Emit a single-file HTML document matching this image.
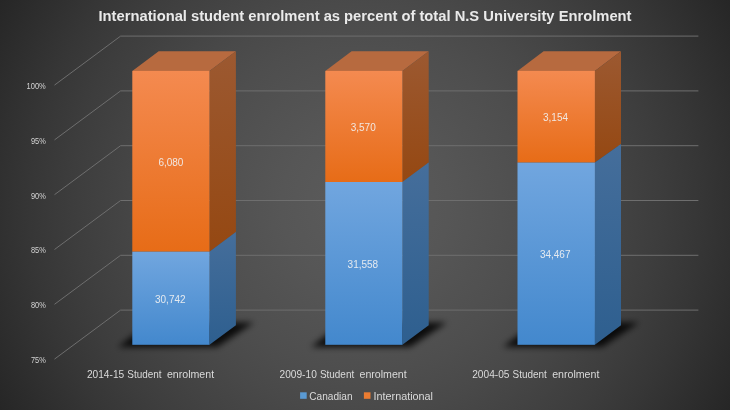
<!DOCTYPE html>
<html lang="en">
<head>
<meta charset="utf-8">
<title>International student enrolment as percent of total N.S University Enrolment</title>
<style>
  html, body { margin: 0; padding: 0; background: #2e2e2e; }
  body { width: 730px; height: 410px; overflow: hidden; }
  svg { display: block; }
  text { font-family: "Liberation Sans", sans-serif; }
</style>
</head>
<body>
<svg width="730" height="410" viewBox="0 0 730 410">
  <defs>
    <radialGradient id="bg" gradientUnits="userSpaceOnUse" cx="365" cy="205" r="419" fx="365" fy="205">
      <stop offset="0" stop-color="#5c5c5c"/>
      <stop offset="0.1" stop-color="#595959"/>
      <stop offset="0.2" stop-color="#565656"/>
      <stop offset="0.3" stop-color="#525252"/>
      <stop offset="0.4" stop-color="#4e4e4e"/>
      <stop offset="0.5" stop-color="#494949"/>
      <stop offset="0.6" stop-color="#434343"/>
      <stop offset="0.7" stop-color="#3d3d3d"/>
      <stop offset="0.8" stop-color="#363636"/>
      <stop offset="0.9" stop-color="#2e2e2e"/>
      <stop offset="1" stop-color="#262626"/>
    </radialGradient>
    <linearGradient id="oFront" x1="0" y1="0" x2="0" y2="1">
      <stop offset="0" stop-color="#f48a50"/>
      <stop offset="1" stop-color="#e76c17"/>
    </linearGradient>
    <linearGradient id="oSide" x1="0" y1="0" x2="0" y2="1">
      <stop offset="0" stop-color="#9c5931"/>
      <stop offset="1" stop-color="#954812"/>
    </linearGradient>
    <linearGradient id="bFront" x1="0" y1="0" x2="0" y2="1">
      <stop offset="0" stop-color="#71a6df"/>
      <stop offset="1" stop-color="#4388cd"/>
    </linearGradient>
    <linearGradient id="bSide" x1="0" y1="0" x2="0" y2="1">
      <stop offset="0" stop-color="#456e9b"/>
      <stop offset="1" stop-color="#2e5f8f"/>
    </linearGradient>
    <filter id="blur" x="-30%" y="-80%" width="160%" height="260%">
      <feGaussianBlur stdDeviation="3.2"/>
    </filter>
  </defs>

  <!-- background -->
  <rect x="0" y="0" width="730" height="410" fill="url(#bg)"/>

  <!-- gridlines: side wall diagonals + back wall horizontals -->
  <g fill="none" stroke="#6e6e6e" stroke-width="1">
    <polyline points="54.5,85.1 120.6,36.1 698.4,36.1"/>
    <polyline points="54.5,139.9 120.6,90.9 698.4,90.9"/>
    <polyline points="54.5,194.7 120.6,145.7 698.4,145.7"/>
    <polyline points="54.5,249.5 120.6,200.5 698.4,200.5"/>
    <polyline points="54.5,304.3 120.6,255.3 698.4,255.3"/>
    <polyline points="54.5,359.1 120.6,310.1 698.4,310.1"/>
  </g>

  <!-- shadows -->
  <g fill="#000" fill-opacity="0.85" filter="url(#blur)">
    <polygon points="118,347 217,347 254,322.5 150,322.5"/>
    <polygon points="311,347 410,347 447,322.5 343,322.5"/>
    <polygon points="503,347 602,347 639,322.5 535,322.5"/>
  </g>

  <!-- bar 1 : 2014-15 -->
  <g>
    <polygon points="132.3,70.9 209.5,70.9 235.9,51.3 158.7,51.3" fill="#b76a3f"/>
    <polygon points="209.5,70.9 235.9,51.3 235.9,232.1 209.5,251.7" fill="url(#oSide)"/>
    <polygon points="209.5,251.7 235.9,232.1 235.9,325.2 209.5,344.8" fill="url(#bSide)"/>
    <rect x="132.3" y="70.9" width="77.2" height="180.8" fill="url(#oFront)"/>
    <rect x="132.3" y="251.7" width="77.2" height="93.1" fill="url(#bFront)"/>
  </g>

  <!-- bar 2 : 2009-10 -->
  <g>
    <polygon points="325.3,70.9 402.4,70.9 428.7,51.3 351.6,51.3" fill="#b76a3f"/>
    <polygon points="402.4,70.9 428.7,51.3 428.7,162.4 402.4,182.0" fill="url(#oSide)"/>
    <polygon points="402.4,182.0 428.7,162.4 428.7,325.2 402.4,344.8" fill="url(#bSide)"/>
    <rect x="325.3" y="70.9" width="77.1" height="111.1" fill="url(#oFront)"/>
    <rect x="325.3" y="182.0" width="77.1" height="162.8" fill="url(#bFront)"/>
  </g>

  <!-- bar 3 : 2004-05 -->
  <g>
    <polygon points="517.5,70.9 594.9,70.9 621.0,51.3 543.6,51.3" fill="#b76a3f"/>
    <polygon points="594.9,70.9 621.0,51.3 621.0,144.0 594.9,162.6" fill="url(#oSide)"/>
    <polygon points="594.9,162.6 621.0,144.0 621.0,325.2 594.9,344.8" fill="url(#bSide)"/>
    <rect x="517.5" y="70.9" width="77.4" height="91.7" fill="url(#oFront)"/>
    <rect x="517.5" y="162.6" width="77.4" height="182.2" fill="url(#bFront)"/>
  </g>

  <g opacity="0.99">
  <!-- title -->
  <text x="98.5" y="20.9" font-size="14.1" font-weight="bold" fill="#ececec" textLength="533" lengthAdjust="spacingAndGlyphs">International student enrolment as percent of total N.S University Enrolment</text>

  <!-- y axis labels -->
  <g font-size="8.4" fill="#d6d6d6">
    <text x="26.6" y="89.1" textLength="19.2" lengthAdjust="spacingAndGlyphs">100%</text>
    <text x="31" y="143.9" textLength="14.8" lengthAdjust="spacingAndGlyphs">95%</text>
    <text x="31" y="198.6" textLength="14.8" lengthAdjust="spacingAndGlyphs">90%</text>
    <text x="31" y="253.4" textLength="14.8" lengthAdjust="spacingAndGlyphs">85%</text>
    <text x="31" y="308.2" textLength="14.8" lengthAdjust="spacingAndGlyphs">80%</text>
    <text x="31" y="362.9" textLength="14.8" lengthAdjust="spacingAndGlyphs">75%</text>
  </g>

  <!-- data labels -->
  <g font-size="10" fill="#f2f2f2" fill-opacity="0.92" text-anchor="middle">
    <text x="170.9" y="165.8">6,080</text>
    <text x="170.3" y="302.6">30,742</text>
    <text x="363.2" y="131">3,570</text>
    <text x="362.9" y="267.8">31,558</text>
    <text x="555.5" y="121.3">3,154</text>
    <text x="555.2" y="257.9">34,467</text>
  </g>

  <!-- category labels -->
  <g font-size="10.5" fill="#dcdcdc">
    <text y="378.2"><tspan x="86.9" textLength="37.3" lengthAdjust="spacingAndGlyphs">2014-15</tspan> <tspan x="127.3" textLength="34.3" lengthAdjust="spacingAndGlyphs">Student</tspan> <tspan x="166.9" textLength="47.2" lengthAdjust="spacingAndGlyphs">enrolment</tspan></text>
    <text y="378.2"><tspan x="279.5" textLength="37.3" lengthAdjust="spacingAndGlyphs">2009-10</tspan> <tspan x="319.9" textLength="34.3" lengthAdjust="spacingAndGlyphs">Student</tspan> <tspan x="359.5" textLength="47.2" lengthAdjust="spacingAndGlyphs">enrolment</tspan></text>
    <text y="378.2"><tspan x="472.2" textLength="37.3" lengthAdjust="spacingAndGlyphs">2004-05</tspan> <tspan x="512.6" textLength="34.3" lengthAdjust="spacingAndGlyphs">Student</tspan> <tspan x="552.2" textLength="47.2" lengthAdjust="spacingAndGlyphs">enrolment</tspan></text>
  </g>

  <!-- legend -->
  <rect x="300.1" y="392.3" width="6.6" height="6.5" fill="#5b9bd5"/>
  <text x="309.3" y="399.8" font-size="10" fill="#dcdcdc" textLength="43.2" lengthAdjust="spacingAndGlyphs">Canadian</text>
  <rect x="363.9" y="392.3" width="6.6" height="6.5" fill="#ed7d31"/>
  <text x="373.5" y="399.8" font-size="10" fill="#dcdcdc" textLength="59.5" lengthAdjust="spacingAndGlyphs">International</text>
  </g>
</svg>
</body>
</html>
